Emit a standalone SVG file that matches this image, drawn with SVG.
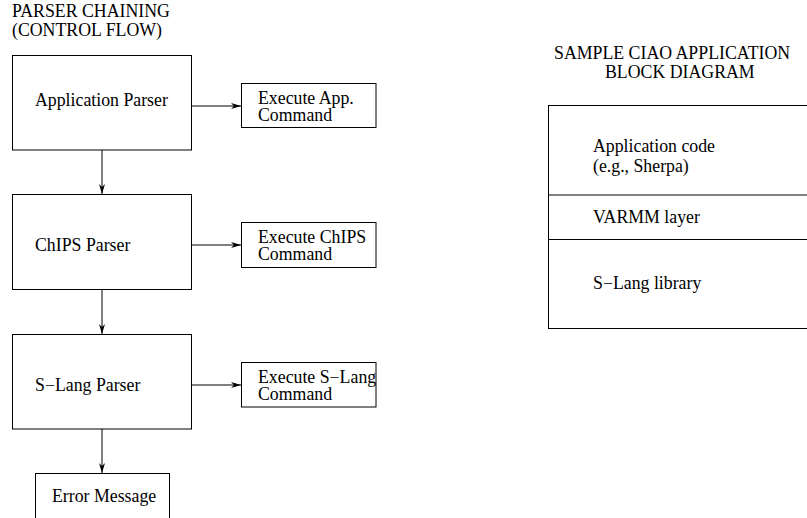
<svg xmlns="http://www.w3.org/2000/svg" width="807" height="518" viewBox="0 0 807 518">
<style>
text{font-family:"Liberation Serif","Times New Roman",serif;font-size:17.8px;fill:#000}
.box{fill:#fff;stroke:#000;stroke-width:1}
.ln{stroke:#000;stroke-width:1;fill:none}
</style>
<defs>
<marker id="ah" markerWidth="10" markerHeight="6" refX="10" refY="3" orient="auto" markerUnits="userSpaceOnUse">
<path d="M0,0 L10,3 L0,6 L3,3 z" fill="#000"/>
</marker>
</defs>
<rect width="807" height="518" fill="#fff"/>
<g id="title-left">
<text x="12" y="17">PARSER CHAINING</text>
<text x="12" y="36">(CONTROL FLOW)</text>
</g>
<g id="title-right">
<text x="554" y="59">SAMPLE CIAO APPLICATION</text>
<text x="605" y="78">BLOCK DIAGRAM</text>
</g>
<g id="app-parser">
<rect class="box" x="12.5" y="55.5" width="179" height="94.5"/>
<text x="35" y="106">Application Parser</text>
</g>
<g id="exec-app">
<rect class="box" x="241.5" y="83.5" width="134.5" height="44"/>
<text x="258" y="104">Execute App.</text>
<text x="258" y="121">Command</text>
</g>
<g id="chips-parser">
<rect class="box" x="12.5" y="194.5" width="179" height="95"/>
<text x="35" y="251">ChIPS Parser</text>
</g>
<g id="exec-chips">
<rect class="box" x="241.5" y="222.5" width="134.5" height="45"/>
<text x="258" y="243">Execute ChIPS</text>
<text x="258" y="260">Command</text>
</g>
<g id="slang-parser">
<rect class="box" x="12.5" y="334.5" width="179" height="94.5"/>
<text x="35" y="391">S−Lang Parser</text>
</g>
<g id="exec-slang">
<rect class="box" x="241.5" y="362.5" width="134.5" height="44.5"/>
<text x="258" y="383">Execute S−Lang</text>
<text x="258" y="400">Command</text>
</g>
<g id="error-message">
<rect class="box" x="35.5" y="473.5" width="134" height="60"/>
<text x="52" y="502">Error Message</text>
</g>
<g id="ciao-block">
<rect class="box" x="548.5" y="105.5" width="270" height="223"/>
<line class="ln" x1="548.5" y1="195" x2="807" y2="195"/>
<line class="ln" x1="548.5" y1="239.5" x2="807" y2="239.5"/>
<text x="593" y="152">Application code</text>
<text x="593" y="172">(e.g., Sherpa)</text>
<text x="593" y="223">VARMM layer</text>
<text x="593" y="289">S−Lang library</text>
</g>
<g id="connectors">
<line class="ln" x1="191.5" y1="106" x2="241" y2="106" marker-end="url(#ah)"/>
<line class="ln" x1="191.5" y1="245" x2="241" y2="245" marker-end="url(#ah)"/>
<line class="ln" x1="191.5" y1="385" x2="241" y2="385" marker-end="url(#ah)"/>
<line class="ln" x1="102" y1="150" x2="102" y2="194" marker-end="url(#ah)"/>
<line class="ln" x1="102" y1="289.5" x2="102" y2="334" marker-end="url(#ah)"/>
<line class="ln" x1="102" y1="429" x2="102" y2="473" marker-end="url(#ah)"/>
</g>
</svg>
